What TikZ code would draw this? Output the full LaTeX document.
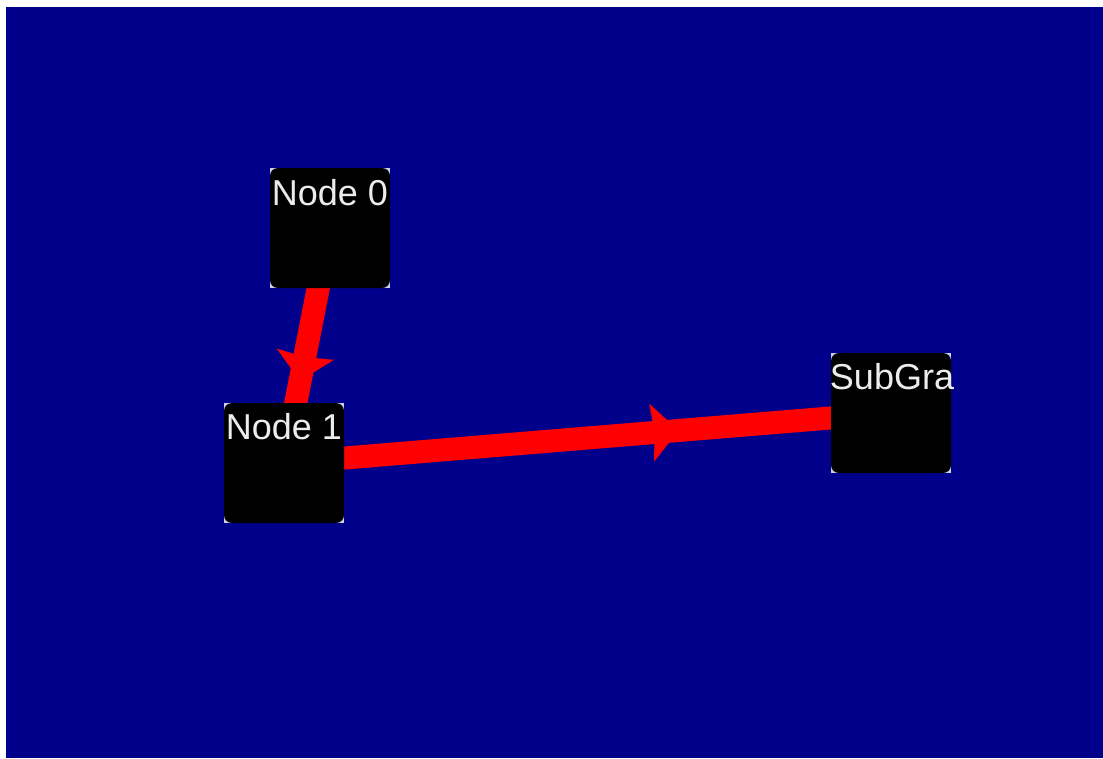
\documentclass[tikz,border=0pt]{standalone}
\usepackage{fontspec}
\setmainfont{Liberation Sans}
\usetikzlibrary{arrows.meta,decorations.markings}
\pgfdeclarelayer{backdrop}
\pgfdeclarelayer{background}
\pgfsetlayers{backdrop,background,main}
\definecolor{canvas}{HTML}{00008B}
\definecolor{edgered}{HTML}{FF0000}
\definecolor{cornerhint}{HTML}{C8D0EC}
\definecolor{labelgray}{HTML}{ECECEC}
\tikzset{
  box/.style={fill=black, rounded corners=8pt, minimum width=120pt,
    minimum height=120pt, inner sep=0pt, outer sep=0pt},
  boxlabel/.style={anchor=base, text=labelgray, inner sep=0pt,
    font=\fontsize{36}{40}\selectfont},
  link/.style={draw=edgered, line width=23pt, postaction={decorate},
    decoration={markings, mark=at position 0.65 with
      {\arrow[edgered]{Stealth[length=27pt,width=58pt,inset=3pt,line width=0.1pt]}}}},
}
\begin{document}
\begin{tikzpicture}[x=1pt,y=-1pt]
  \useasboundingbox (0,0) rectangle (1103,758);
  \begin{pgfonlayer}{backdrop}
    \fill[canvas] (6,7) rectangle (1103,758);
  \end{pgfonlayer}

  % boxes
  \node[box] (n0) at (330,228) {};
  \node[box] (n1) at (284,463) {};
  \node[box] (sg) at (891,413) {};

  % titles
  \node[boxlabel] (t0) at (330,205) {Node 0};
  \node[boxlabel] (t1) at (284,439) {Node 1};
  \node[boxlabel] (t2) at (892,389) {SubGra};

  \begin{pgfonlayer}{background}
    % connectors run centre to centre beneath the boxes
    \draw[link] (n0.center) -- (n1.center);
    \draw[link] (n1.center) -- (sg.center);
    % light corner flecks behind the rounded boxes
    \foreach \b in {n0,n1,sg}
      \fill[cornerhint] (\b.south west) rectangle (\b.north east);
  \end{pgfonlayer}
\end{tikzpicture}
\end{document}
